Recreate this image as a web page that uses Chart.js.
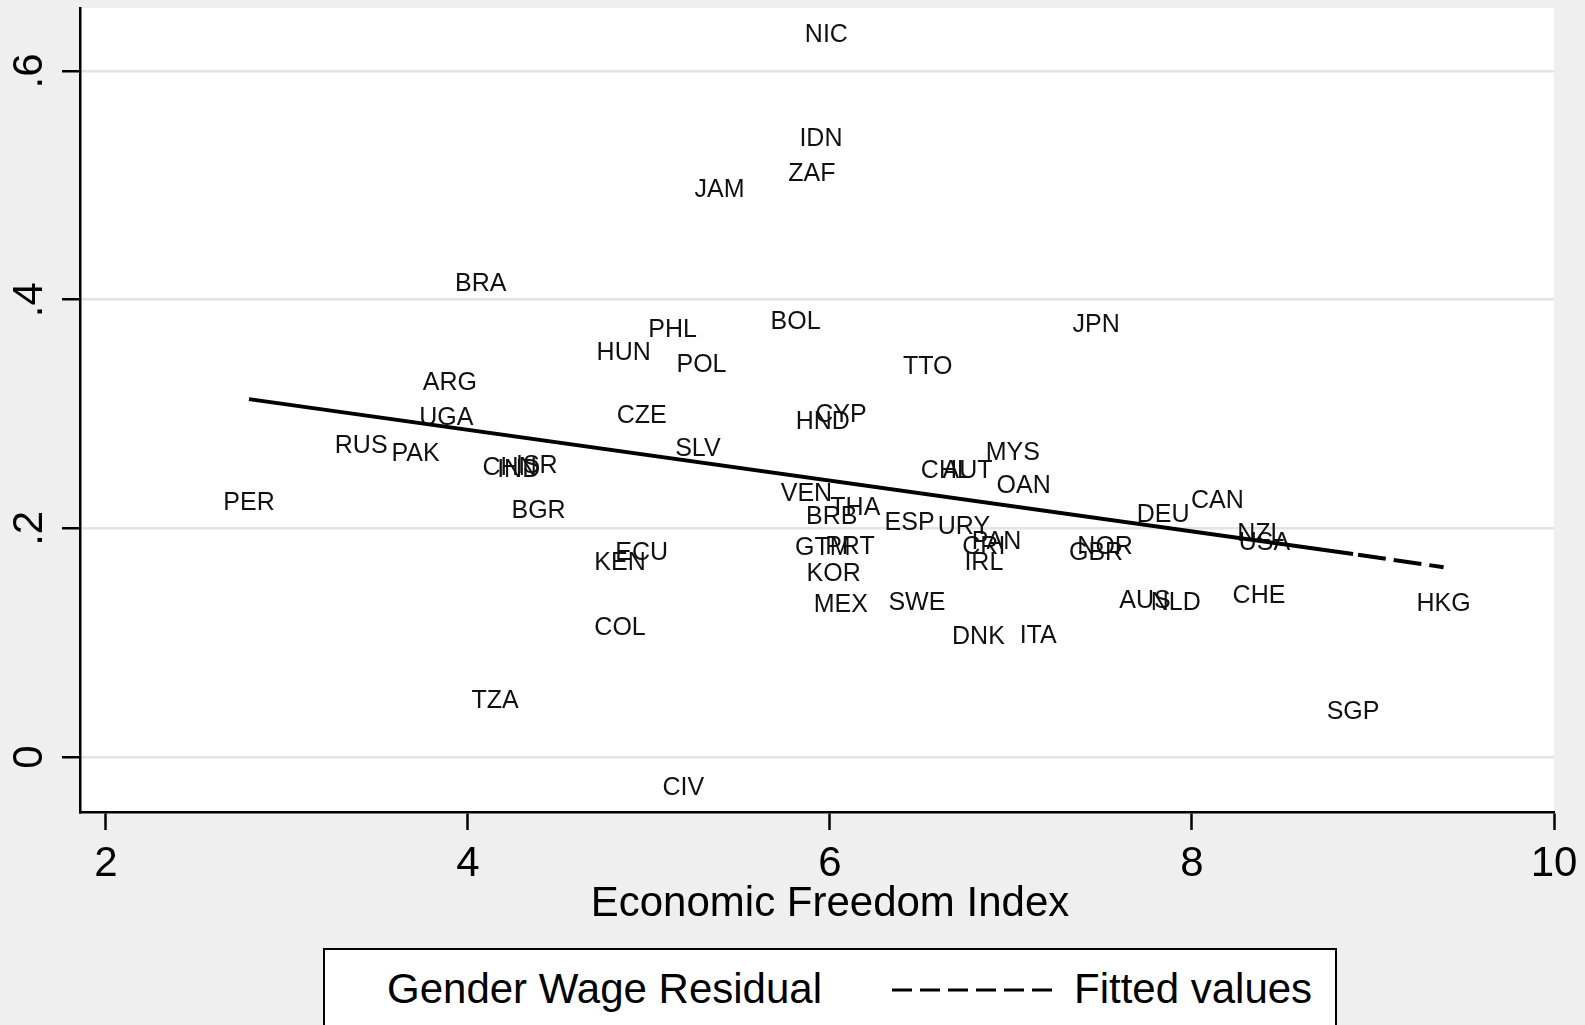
<!DOCTYPE html>
<html lang="en">
<head>
<meta charset="UTF-8">
<title>Gender Wage Residual and Economic Freedom</title>
<script src="https://cdn.jsdelivr.net/npm/chart.js"></script>
<style>
    body {
        margin: 0;
        background: #efefef;
        font-family: "Liberation Sans", Arial, sans-serif;
    }
    .wrap {
        position: relative;
        width: 1585px;
        height: 1025px;
        overflow: hidden;
    }
    .legend {
        position: absolute;
        left: 323px;
        top: 948px;
        width: 1014px;
        height: 110px;
        background: #fff;
        border: 2px solid #000;
        box-sizing: border-box;
        font-size: 42px;
        color: #000;
    }
    .legend span, .legend svg {
        position: absolute;
        line-height: 42px;
        white-space: nowrap;
    }
</style>
</head>
<body>

<div class="wrap">
    <canvas id="freedomChart"></canvas>
    <div class="legend">
        <span style="left:62px; top:18px;">Gender Wage Residual</span>
        <svg style="left:567px; top:30px;" width="160" height="20">
            <line x1="0" y1="10" x2="160" y2="10" stroke="#000" stroke-width="3" stroke-dasharray="20 8"/>
        </svg>
        <span style="left:749px; top:18px;">Fitted values</span>
    </div>
</div>

<script>
// country codes with economic freedom index (x) and gender wage residual (y)
const countries = ['NIC','IDN','ZAF','JAM','BRA','PHL','BOL','JPN','HUN','POL',
                   'TTO','ARG','UGA','CZE','HND','CYP','RUS','PAK','SLV','MYS',
                   'CHN','IND','ISR','CHL','AUT','OAN','PER','VEN','THA','CAN',
                   'DEU','BGR','BRB','ESP','URY','NZL','USA','PAN','CRI','NOR',
                   'GBR','GTM','PRT','ECU','KEN','IRL','KOR','AUS','NLD','CHE',
                   'SWE','MEX','HKG','COL','DNK','ITA','TZA','SGP','CIV'];
const freedom = [5.98, 5.95, 5.90, 5.39, 4.07, 5.13, 5.81, 7.47, 4.86, 5.29,
                 6.54, 3.90, 3.88, 4.96, 5.96, 6.06, 3.41, 3.71, 5.27, 7.01,
                 4.23, 4.28, 4.38, 6.64, 6.76, 7.07, 2.79, 5.87, 6.14, 8.14,
                 7.84, 4.39, 6.01, 6.44, 6.74, 8.38, 8.40, 6.92, 6.85, 7.52,
                 7.47, 5.96, 6.11, 4.96, 4.84, 6.85, 6.02, 7.74, 7.91, 8.37,
                 6.48, 6.06, 9.39, 4.84, 6.82, 7.15, 4.15, 8.89, 5.19];
const residual = [0.631, 0.540, 0.510, 0.496, 0.414, 0.373, 0.380, 0.378, 0.353, 0.343,
                  0.341, 0.327, 0.296, 0.298, 0.293, 0.299, 0.272, 0.265, 0.269, 0.266,
                  0.253, 0.251, 0.254, 0.250, 0.250, 0.237, 0.222, 0.230, 0.218, 0.224,
                  0.212, 0.215, 0.210, 0.205, 0.201, 0.195, 0.187, 0.188, 0.184, 0.184,
                  0.178, 0.183, 0.184, 0.178, 0.170, 0.170, 0.160, 0.136, 0.135, 0.141,
                  0.135, 0.133, 0.134, 0.113, 0.105, 0.106, 0.049, 0.039, -0.027];

// fitted line: solid up to SGP, dashed from SGP to HKG
const fitX = [2.79, 8.89, 9.39];
const fitY = [0.313, 0.1775, 0.166];

const xTicks = [2, 4, 6, 8, 10];
const yTicks = [0, 0.2, 0.4, 0.6];
const yTickLabels = ['0', '.2', '.4', '.6'];
const xTitle = 'Economic Freedom Index';

const family = '"Liberation Sans", Arial, sans-serif';

// white plot region on the grey graph region
const plotBackground = {
    id: 'plotBackground',
    beforeDraw(chart) {
        const {ctx, chartArea: a} = chart;
        ctx.save();
        ctx.fillStyle = '#ffffff';
        ctx.fillRect(a.left, a.top, a.right - a.left, a.bottom - a.top);
        ctx.restore();
    }
};

// country codes used as markers, drawn under the fitted line
const countryLabels = {
    id: 'countryLabels',
    beforeDatasetsDraw(chart) {
        const ctx = chart.ctx;
        const meta = chart.getDatasetMeta(0);
        ctx.save();
        ctx.font = '25px ' + family;
        ctx.fillStyle = '#111';
        ctx.textAlign = 'center';
        ctx.textBaseline = 'middle';
        meta.data.forEach((pt, i) => ctx.fillText(countries[i], pt.x, pt.y));
        ctx.restore();
    }
};

// axis title centred over the tick range (2..10) like Stata does
const axisTitle = {
    id: 'axisTitle',
    afterDraw(chart) {
        const ctx = chart.ctx;
        const xs = chart.scales.x;
        const cx = xs.getPixelForValue((xTicks[0] + xTicks[xTicks.length - 1]) / 2);
        ctx.save();
        ctx.font = '42px ' + family;
        ctx.fillStyle = '#000';
        ctx.textAlign = 'center';
        ctx.textBaseline = 'middle';
        ctx.fillText(xTitle, cx, xs.bottom - 23);
        ctx.restore();
    }
};

new Chart(document.getElementById('freedomChart'), {
    type: 'scatter',
    data: {
        datasets: [{
            label: 'Gender Wage Residual',
            data: freedom.map((x, i) => ({x: x, y: residual[i]})),
            pointRadius: 0,
            pointHoverRadius: 0
        }, {
            type: 'line',
            label: 'Fitted values',
            data: fitX.map((x, i) => ({x: x, y: fitY[i]})),
            borderColor: '#000',
            borderWidth: 4,
            pointRadius: 0,
            fill: false,
            segment: {
                borderDash: c => c.p0DataIndex === 1 ? [28, 8] : undefined,
                borderDashOffset: c => c.p0DataIndex === 1 ? 31 : 0
            }
        }]
    },
    options: {
        responsive: true,
        maintainAspectRatio: false,
        animation: false,
        layout: {
            padding: {top: 8, left: 0, right: 31, bottom: 98}
        },
        plugins: {
            legend: {display: false},
            tooltip: {enabled: false}
        },
        scales: {
            x: {
                type: 'linear',
                min: 1.8564,
                max: 10,
                afterBuildTicks: s => { s.ticks = xTicks.map(v => ({value: v})); },
                afterFit: s => { s.height = 115; s.paddingLeft = 0; s.paddingRight = 0; },
                grid: {
                    drawOnChartArea: false,
                    tickLength: 18,
                    tickWidth: 2.5,
                    tickColor: '#000'
                },
                border: {color: '#000', width: 2.5},
                ticks: {
                    color: '#000',
                    font: {size: 42, family: family},
                    padding: 9,
                    maxRotation: 0
                }
            },
            y: {
                type: 'linear',
                min: -0.0481,
                max: 0.6551,
                afterBuildTicks: s => { s.ticks = yTicks.map(v => ({value: v})); },
                afterFit: s => { s.width = 80; s.paddingTop = 0; s.paddingBottom = 0; },
                grid: {
                    color: '#e3e3e3',
                    lineWidth: 2.5,
                    tickLength: 18,
                    tickWidth: 2.5,
                    tickColor: '#000'
                },
                border: {color: '#000', width: 2.5},
                ticks: {
                    color: '#000',
                    font: {size: 42, family: family},
                    padding: 14,
                    minRotation: 90,
                    maxRotation: 90,
                    crossAlign: 'center',
                    callback: v => yTickLabels[yTicks.indexOf(v)]
                }
            }
        }
    },
    plugins: [plotBackground, countryLabels, axisTitle]
});
</script>

</body>
</html>
